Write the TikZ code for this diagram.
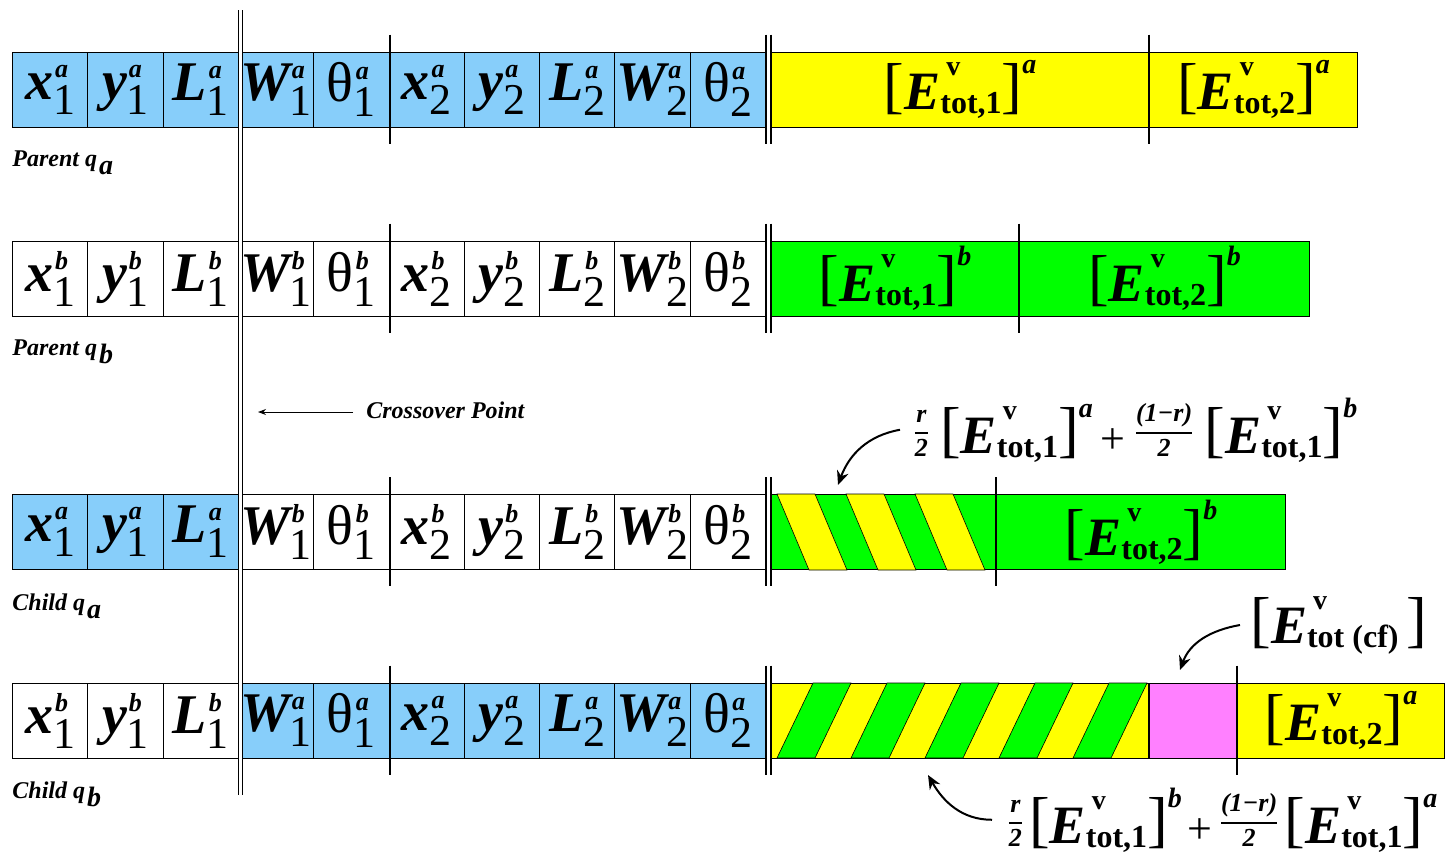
\documentclass[tikz,border=0pt]{standalone}
\usepackage{fontspec}
\setmainfont{Liberation Serif}
\usetikzlibrary{arrows.meta,positioning,calc}
\definecolor{GeneBlue}{RGB}{135,206,250}
\definecolor{FitYellow}{RGB}{255,255,0}
\definecolor{FitGreen}{RGB}{0,255,0}
\definecolor{FitPink}{RGB}{255,128,255}
\newcommand{\gsize}[1]{\fontsize{#1}{#1}\selectfont}
\newcommand{\bi}{\bfseries\itshape}
% gene symbol: letter, index, parent
\newcommand{\Gene}[3]{{\gsize{28}#1}\rlap{\raisebox{11pt}{\gsize{13}\bi\kern1pt #3}}\raisebox{-7.5pt}{\gsize{22}#2}}
\newcommand{\Gb}[3]{\Gene{\bi #1}{#2}{#3}}
\newcommand{\Gt}[2]{\Gene{θ}{#1}{#2}}
% fitness term
\newcommand{\Etot}[2]{\raisebox{1.5pt}{\gsize{31}[}{\gsize{27}\bi E}\rlap{\raisebox{17pt}{\gsize{14}\bfseries\kern3pt v}}\raisebox{-2pt}{\gsize{16}\bfseries tot#1}\raisebox{1.5pt}{\gsize{31}]}\raisebox{18pt}{\gsize{14}\bi #2}}
\newcommand{\Half}[1]{\raisebox{7pt}{\gsize{12}$\displaystyle{\hbox{\gsize{13}\bi #1}\above0.9pt\hbox{\gsize{13}\bi 2}}$}}
\tikzset{
 cell/.style={draw,line width=0.5pt,minimum width=37.65pt,minimum height=37.5pt,inner sep=0pt,anchor=west},
 fitbox/.style={draw,line width=0.5pt,minimum height=37.5pt,inner sep=0pt,anchor=west},
 cutline/.style={line width=1pt},
 rowlabel/.style={inner sep=0pt,anchor=north west,font=\gsize{12}\bi},
 notebox/.style={inner sep=0pt,anchor=base west},
 curvedpointer/.style={line width=1pt,-{Stealth[length=7pt,width=6pt]}},
 stripe/.style={draw=black,line width=0.3pt}
}
\begin{document}
\begin{tikzpicture}[x=0.5pt,y=-0.5pt]
\useasboundingbox (0,0) rectangle (1445,858);

% parent a
\foreach \g [count=\i] in {\Gb{x}{1}{a},\Gb{y}{1}{a},\Gb{L}{1}{a},\Gb{W}{1}{a},\Gt{1}{a},
  \Gb{x}{2}{a},\Gb{y}{2}{a},\Gb{L}{2}{a},\Gb{W}{2}{a},\Gt{2}{a}}
  \node[cell,fill=GeneBlue] (pa\i) at ({12+75.3*(\i-1)},89.5) {\g};
\node[fitbox,fill=FitYellow,minimum width=188.5pt] (paE1) at (771,89.5) {\Etot{,1}{a}};
\node[fitbox,fill=FitYellow,minimum width=104pt,right=0pt of paE1] (paE2) {\Etot{,2}{a}};
\node[rowlabel] at ([yshift=-11.5pt]pa1.south west) {Parent q\kern1pt\raisebox{-4pt}{\gsize{14}a}};

% parent b
\foreach \g [count=\i] in {\Gb{x}{1}{b},\Gb{y}{1}{b},\Gb{L}{1}{b},\Gb{W}{1}{b},\Gt{1}{b},
  \Gb{x}{2}{b},\Gb{y}{2}{b},\Gb{L}{2}{b},\Gb{W}{2}{b},\Gt{2}{b}}
  \node[cell,fill=white] (pb\i) at ({12+75.3*(\i-1)},278.5) {\g};
\node[fitbox,fill=FitGreen,minimum width=123.5pt] (pbE1) at (771,278.5) {\Etot{,1}{b}};
\node[fitbox,fill=FitGreen,minimum width=145pt,right=0pt of pbE1] (pbE2) {\Etot{,2}{b}};
\node[rowlabel] at ([yshift=-11.5pt]pb1.south west) {Parent q\kern1pt\raisebox{-4pt}{\gsize{14}b}};

% child a
\foreach \g/\f [count=\i] in {\Gb{x}{1}{a}/GeneBlue,\Gb{y}{1}{a}/GeneBlue,\Gb{L}{1}{a}/GeneBlue,
  \Gb{W}{1}{b}/white,\Gt{1}{b}/white,\Gb{x}{2}{b}/white,\Gb{y}{2}{b}/white,\Gb{L}{2}{b}/white,
  \Gb{W}{2}{b}/white,\Gt{2}{b}/white}
  \node[cell,fill=\f] (ca\i) at ({12+75.3*(\i-1)},532) {\g};
\node[fitbox,fill=FitGreen,minimum width=112pt] (caE1) at (771,532) {};
\foreach \k in {0,1,2}
  \filldraw[fill=FitYellow,stripe] ({777+69*\k},494) -- ({815+69*\k},494)
    -- ({847+69*\k},570) -- ({809+69*\k},570) -- cycle;
\node[fitbox,fill=FitGreen,minimum width=144.5pt,right=0pt of caE1] (caE2) {\Etot{,2}{b}};
\node[rowlabel] at ([yshift=-11.5pt]ca1.south west) {Child q\kern1pt\raisebox{-4pt}{\gsize{14}a}};

% child b
\foreach \g/\f [count=\i] in {\Gb{x}{1}{b}/white,\Gb{y}{1}{b}/white,\Gb{L}{1}{b}/white,
  \Gb{W}{1}{a}/GeneBlue,\Gt{1}{a}/GeneBlue,\Gb{x}{2}{a}/GeneBlue,\Gb{y}{2}{a}/GeneBlue,
  \Gb{L}{2}{a}/GeneBlue,\Gb{W}{2}{a}/GeneBlue,\Gt{2}{a}/GeneBlue}
  \node[cell,fill=\f] (cb\i) at ({12+75.3*(\i-1)},720.5) {\g};
\node[fitbox,fill=FitYellow,minimum width=188.5pt] (cbE1) at (771,720.5) {};
\foreach \k in {0,...,4}
  \filldraw[fill=FitGreen,stripe] ({813+74*\k},683) -- ({851+74*\k},683)
    -- ({815+74*\k},758) -- ({777+74*\k},758) -- cycle;
\node[fitbox,fill=FitPink,minimum width=43.5pt,right=0pt of cbE1] (cbcf) {};
\node[fitbox,fill=FitYellow,minimum width=103.5pt,right=0pt of cbcf] (cbE2) {\Etot{,2}{a}};
\node[rowlabel] at ([yshift=-11.5pt]cb1.south west) {Child q\kern1pt\raisebox{-4pt}{\gsize{14}b}};

% cuts
\foreach \r/\e in {pa/paE1,pb/pbE1,ca/caE1,cb/cbE1} {
  \draw[cutline] ([yshift=8.5pt]\r5.north east) -- ([yshift=-8pt]\r5.south east);
  \draw[cutline] ([yshift=8.5pt]\r10.north east) -- ([yshift=-8pt]\r10.south east);
  \draw[cutline] ([yshift=8.5pt]\e.north west) -- ([yshift=-8pt]\e.south west);
}
\draw[cutline] ([yshift=8.5pt]paE1.north east) -- ([yshift=-8pt]paE1.south east);
\draw[cutline] ([yshift=8.5pt]pbE1.north east) -- ([yshift=-8pt]pbE1.south east);
\draw[cutline] ([yshift=8.5pt]caE1.north east) -- ([yshift=-8pt]caE1.south east);
\draw[cutline] ([yshift=8.5pt]cbcf.north east) -- ([yshift=-8pt]cbcf.south east);

% crossover point
\coordinate (xtop) at (240,10);
\coordinate (xbot) at (240,795);
\draw[double,double distance=1.5pt,line width=0.5pt] (xtop) -- (xbot);
\node[inner sep=0pt,anchor=west,font=\gsize{12}\bi] (xlabel) at (366,410) {Crossover Point};
\coordinate (xtip) at (258,412);
\draw[line width=0.5pt,-{Stealth[length=4pt,width=3pt]}] ([xshift=-6.5pt,yshift=-1pt]xlabel.west) -- (xtip);

% blend notes
\node[notebox] (caNote) at (912,453) {\Half{r}\hspace{5pt}\Etot{,1}{a}\hspace{4pt}{\gsize{22}+}\hspace{4pt}\Half{(1−r)}\hspace{5pt}\Etot{,1}{b}};
\coordinate (caTip) at (838,485);
\draw[curvedpointer] ([xshift=-6pt]caNote.west) to[out=190,in=70] (caTip);

\node[notebox] (cfNote) at (1250,643) {\Etot{\ (cf)\ }{}};
\coordinate (cfTip) at (1180,670);
\draw[curvedpointer] ([xshift=-5pt]cfNote.west) to[out=190,in=70] (cfTip);

\node[notebox] (cbNote) at (1006,843) {\Half{r}\hspace{2.5pt}\Etot{,1}{b}\hspace{3pt}{\gsize{22}+}\hspace{3pt}\Half{(1−r)}\hspace{2.5pt}\Etot{,1}{a}};
\coordinate (cbTip) at (928,775);
\draw[curvedpointer] ([xshift=-7pt]cbNote.west) to[out=180,in=-60] (cbTip);
\end{tikzpicture}
\end{document}
